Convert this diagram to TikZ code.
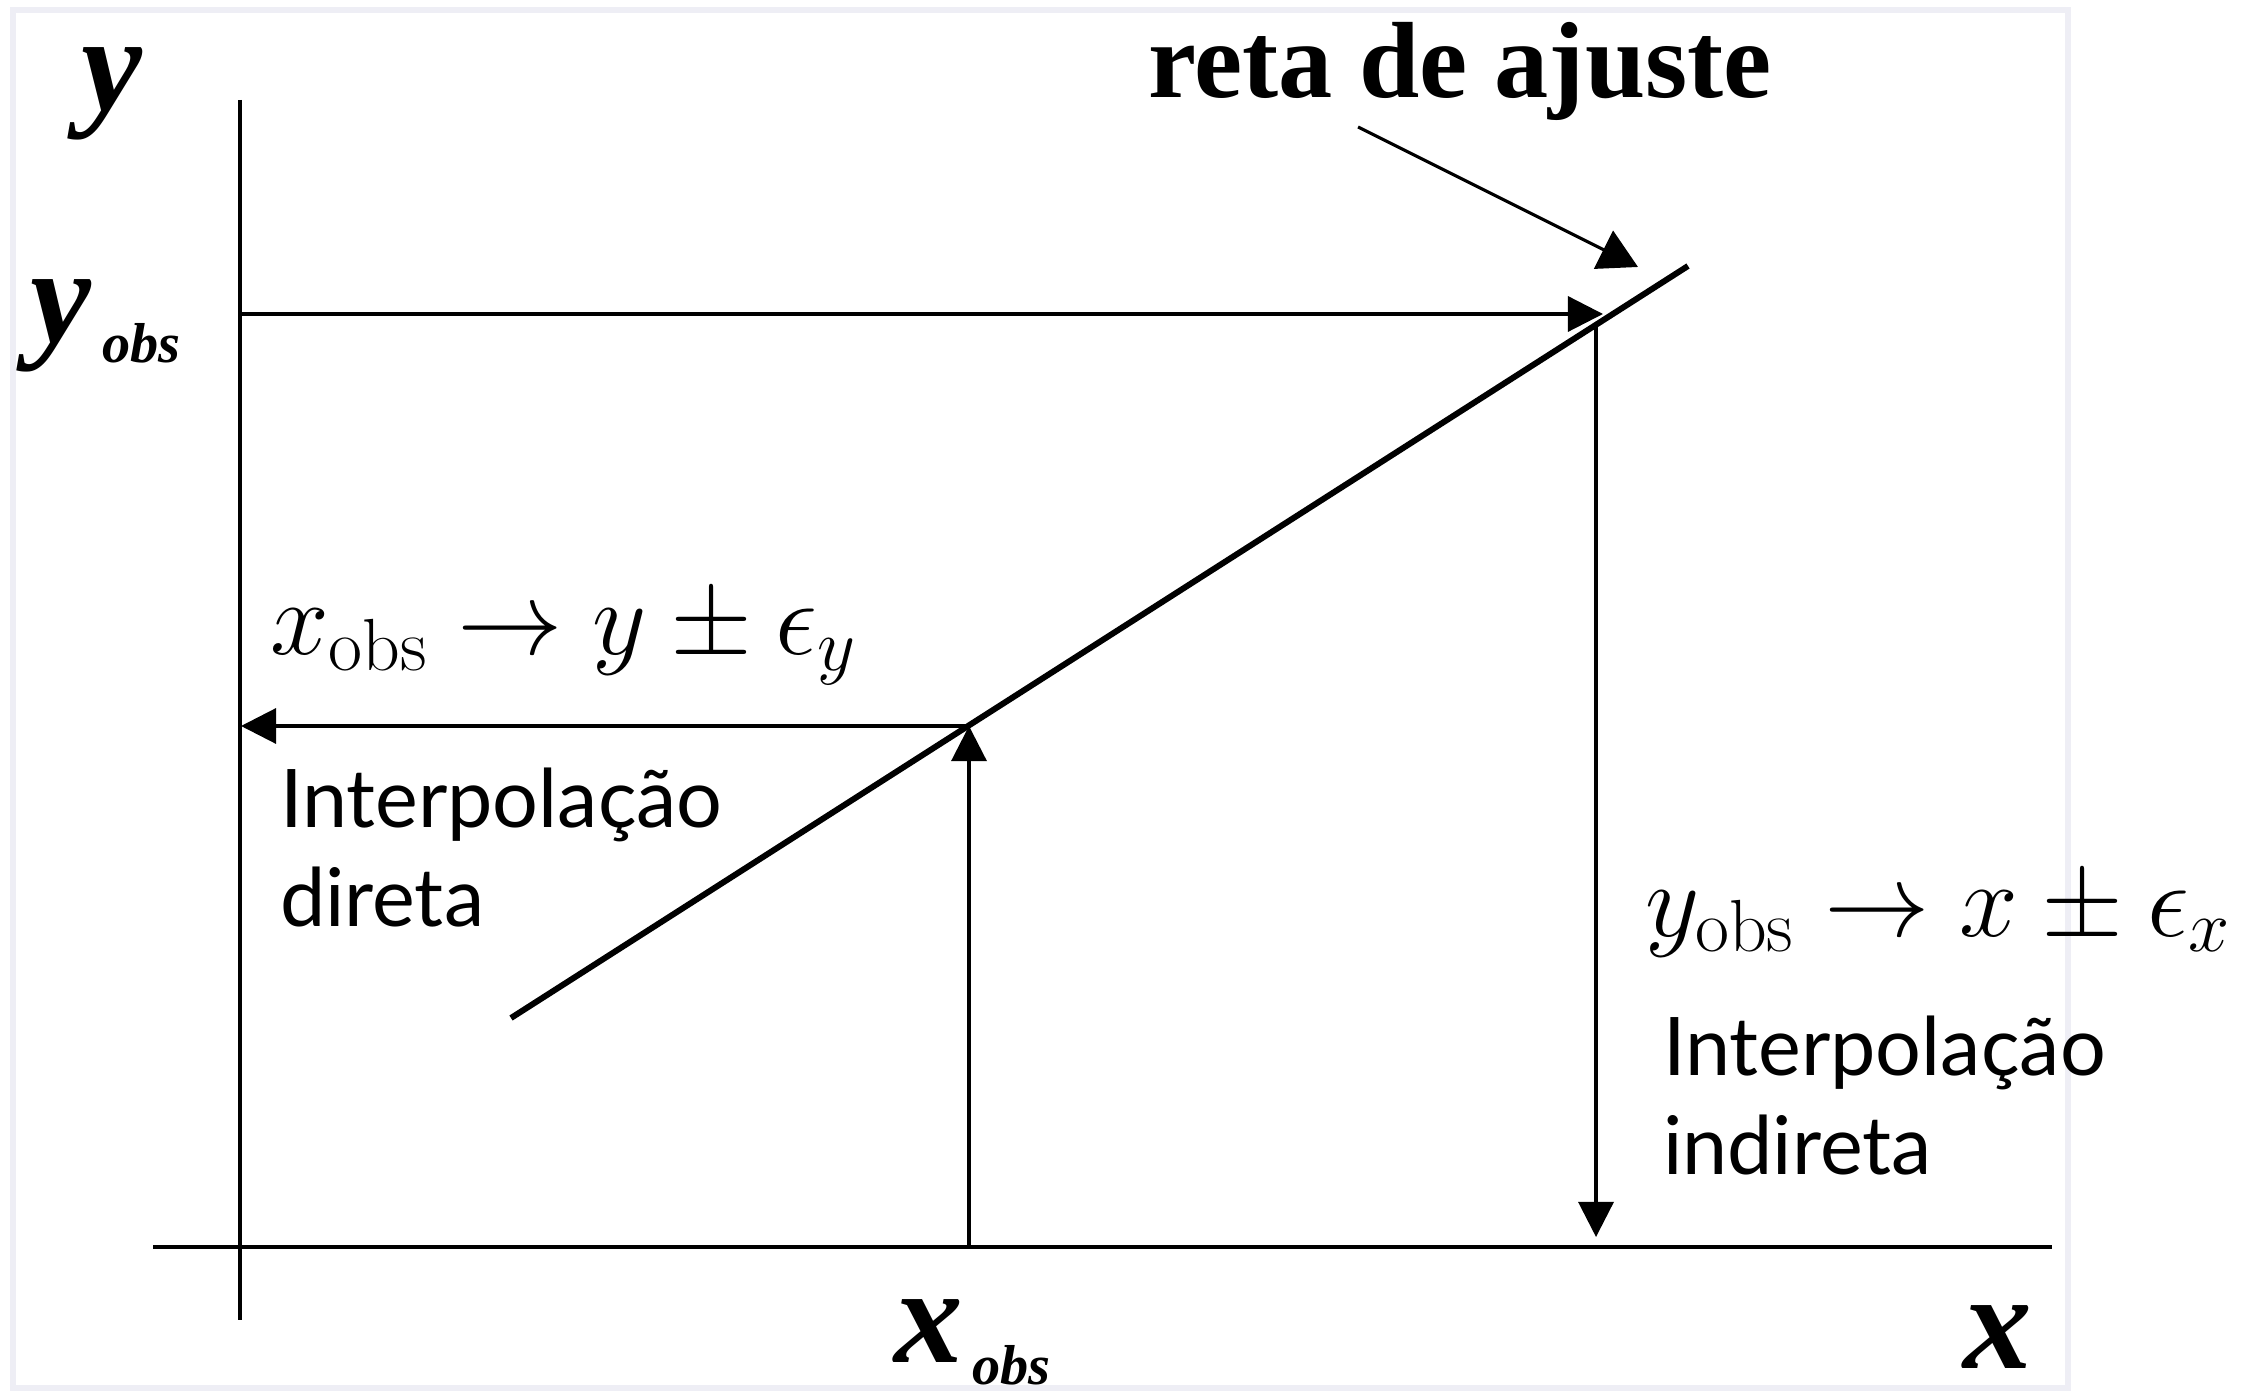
\documentclass[tikz,border=0pt]{standalone}
\usepackage{fix-cm}
\usepackage[no-math]{fontspec}
\setmainfont{Liberation Serif}
\newfontfamily\latofont{Lato}
\usetikzlibrary{arrows.meta}
\definecolor{framegray}{RGB}{238,238,245}
\begin{document}
\begin{tikzpicture}[x=0.01cm,y=-0.01cm,
  every node/.style={inner sep=0pt, outer sep=0pt},
  thinline/.style={line width=0.9pt, draw=black},
  arr/.style={thinline, -{Triangle[length=10pt,width=10pt]}},
  bigarr/.style={thinline, -{Triangle[length=11pt,width=12pt]}},
  fitline/.style={line width=1.7pt, draw=black},
  axisline/.style={line width=1pt, draw=black},
  biglabel/.style={font=\fontsize{39}{41}\selectfont\bfseries\itshape, anchor=base},
  sublabel/.style={font=\fontsize{16}{18}\selectfont\bfseries\itshape, anchor=base west},
  mathlabel/.style={font=\fontsize{30}{36}\selectfont, anchor=base west},
  sanslabel/.style={font=\fontsize{23}{28}\selectfont\latofont, align=left, anchor=base west}]
\path[use as bounding box] (0,0) rectangle (2258,1392);
\draw[line width=1.5pt, framegray] (13,10) rectangle (2068,1388);

% coordinates
\coordinate (ytop) at (240,100);
\coordinate (ybot) at (240,1320);
\coordinate (xl) at (153,1247);
\coordinate (xr) at (2052,1247);
\coordinate (fA) at (511,1018);
\coordinate (fB) at (1688,266);
\coordinate (pD) at (969,726);
\coordinate (yD) at (241,726);
\coordinate (xo) at (969,1247);
\coordinate (ya) at (240,314);
\coordinate (yb) at (1603,314);
\coordinate (vt) at (1596,326);
\coordinate (vb) at (1596,1237);
\coordinate (rs) at (1358,127);
\coordinate (rt) at (1638,267);

% axes
\draw[thinline] (ytop) -- (ybot);
\draw[axisline] (xl) -- (xr);

% fit line
\draw[fitline] (fA) -- (fB);

% arrows
\draw[arr] (ya) -- (yb);
\draw[arr] (vt) -- (vb);
\draw[arr] (xo) -- (pD);
\draw[arr] (pD) -- (yD);
\draw[bigarr] (rs) -- (rt);

% labels
\node[font=\fontsize{30.8}{36}\selectfont\bfseries, anchor=base west] (reta) at (1148,98) {reta de ajuste};
\node[biglabel] (ylab) at (112,111) {y};
\node[biglabel] (yobsy) at (61,343) {y};
\node[sublabel] (yobss) at (102,363) {obs};
\node[biglabel] (xobsx) at (929,1362) {x};
\node[sublabel] (xobss) at (972,1384) {obs};
\node[biglabel] (xlab) at (1998,1368) {x};

\node[mathlabel] (mdir) at (270,655) {$x_{\mathrm{obs}} \rightarrow y \pm \epsilon_y$};
\node[mathlabel] (mind) at (1645,936) {$y_{\mathrm{obs}} \rightarrow x \pm \epsilon_x$};

\node[sanslabel] (tdir) at (280,926) {Interpolação\\direta};
\node[sanslabel] (tind) at (1663,1174) {Interpolação\\indireta};
\end{tikzpicture}
\end{document}
